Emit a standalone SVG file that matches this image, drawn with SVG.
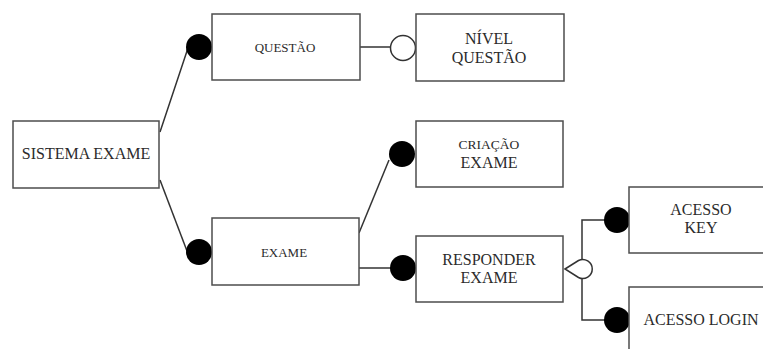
<svg xmlns="http://www.w3.org/2000/svg" width="763" height="349" viewBox="0 0 763 349">
  <style>
    .box { fill: #ffffff; stroke: #4d4d4d; stroke-width: 1.5; }
    .lbl { font-family: "Liberation Serif", "Times New Roman", serif; fill: #2b2b2b; text-anchor: middle; }
    .big { font-size: 16px; }
    .small { font-size: 13px; }
    .edge { fill: none; stroke: #333333; stroke-width: 1.5; }
    .dot { fill: #000000; }
    .ring { fill: #ffffff; stroke: #333333; stroke-width: 1.5; }
  </style>

  <!-- connectors -->
  <g id="connectors">
    <path class="edge" d="M160,132 L188,48"/>
    <path class="edge" d="M160,180 L187,251"/>
    <path class="edge" d="M360,47 L391,47"/>
    <path class="edge" d="M359,233 L389,160"/>
    <path class="edge" d="M359,268 L391,268"/>
    <path class="edge" d="M582,260 L582,220 L605,220"/>
    <path class="edge" d="M582,278 L582,320 L605,320"/>

    <!-- end symbols -->
    <circle class="dot" cx="199" cy="47" r="13"/>
    <circle class="dot" cx="199" cy="252" r="13"/>
    <circle class="ring" cx="403" cy="48" r="12.5"/>
    <circle class="dot" cx="402" cy="154" r="13"/>
    <circle class="dot" cx="403" cy="268" r="13"/>
    <circle class="dot" cx="617" cy="220" r="13"/>
    <circle class="dot" cx="617" cy="320" r="13"/>
    <path class="ring" d="M565,269 L578.5,260.5 A9.5,9.5 0 1 1 578.5,277.5 Z"/>
  </g>

  <g id="sistema-exame">
    <rect class="box" x="13" y="121" width="146" height="67"/>
    <text class="lbl big" x="86" y="159">SISTEMA EXAME</text>
  </g>

  <g id="questao">
    <rect class="box" x="212" y="14" width="148" height="66"/>
    <text class="lbl small" x="285" y="52">QUESTÃO</text>
  </g>

  <g id="nivel-questao">
    <rect class="box" x="416" y="14" width="148" height="67"/>
    <text class="lbl big" x="489" y="44">NÍVEL</text>
    <text class="lbl big" x="489" y="63">QUESTÃO</text>
  </g>

  <g id="criacao-exame">
    <rect class="box" x="416" y="121" width="147" height="66"/>
    <text class="lbl" style="font-size:13.5px" x="489" y="149">CRIAÇÃO</text>
    <text class="lbl big" x="489" y="168">EXAME</text>
  </g>

  <g id="exame">
    <rect class="box" x="212" y="218" width="147" height="67"/>
    <text class="lbl small" x="284" y="257">EXAME</text>
  </g>

  <g id="responder-exame">
    <rect class="box" x="416" y="236" width="147" height="66"/>
    <text class="lbl big" x="489" y="265">RESPONDER</text>
    <text class="lbl big" x="489" y="283">EXAME</text>
  </g>

  <g id="acesso-key">
    <rect class="box" x="629" y="187" width="148" height="66"/>
    <text class="lbl big" x="701" y="215">ACESSO</text>
    <text class="lbl big" x="701" y="233">KEY</text>
  </g>

  <g id="acesso-login">
    <rect class="box" x="629" y="287" width="148" height="70"/>
    <text class="lbl big" x="701" y="325">ACESSO LOGIN</text>
  </g>
</svg>
